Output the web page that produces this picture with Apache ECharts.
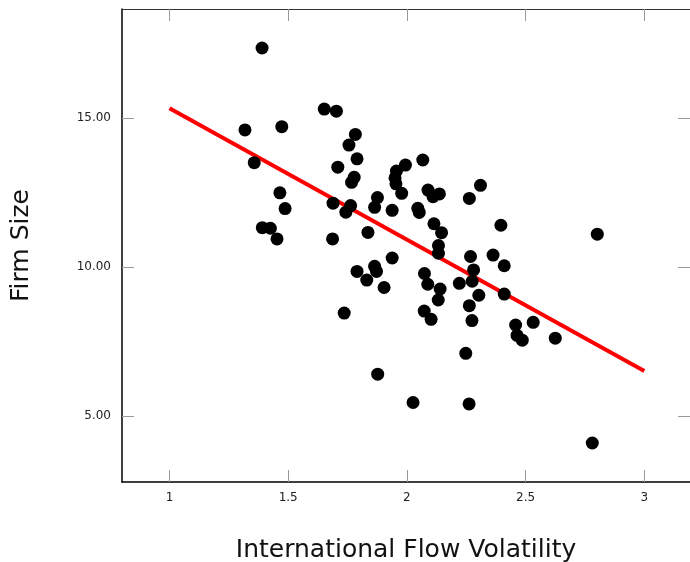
<!DOCTYPE html>
<html>
<head>
<meta charset="utf-8">
<script src="https://cdn.jsdelivr.net/npm/echarts@6/dist/echarts.min.js"></script>
<style>html,body{margin:0;padding:0;background:#fff}#c{width:690px;height:562px}</style>
</head>
<body>
<div id="c"></div>
<script>
const xTicks = [1, 1.5, 2, 2.5, 3];
const yTicks = [5, 10, 15];
const volatility = [1.390,1.318,1.473,1.357,1.391,1.425,1.453,1.465,1.487,1.652,1.703,1.783,1.756,1.790,1.709,1.778,1.767,1.689,1.763,1.743,1.687,1.836,1.790,1.831,1.736,1.864,1.872,1.904,1.877,1.938,1.876,1.864,1.938,1.994,1.956,1.950,1.954,1.978,2.067,2.089,2.110,2.137,2.046,2.052,2.114,2.146,2.133,2.133,2.074,2.088,2.140,2.132,2.073,2.102,2.026,2.262,2.263,2.310,2.268,2.281,2.275,2.221,2.303,2.263,2.274,2.248,2.363,2.396,2.410,2.410,2.458,2.464,2.486,2.532,2.625,2.802,2.781];
const firmSize = [17.35,14.60,14.71,13.50,11.32,11.30,10.94,12.49,11.96,15.30,15.23,14.45,14.09,13.63,13.35,13.01,12.84,12.14,12.06,11.84,10.94,11.16,9.85,9.56,8.45,10.02,9.85,9.31,6.40,10.30,12.33,12.00,11.90,13.42,13.22,12.99,12.79,12.47,13.59,12.58,12.36,12.45,11.97,11.83,11.45,11.15,10.72,10.46,9.78,9.42,9.26,8.89,8.52,8.24,5.45,5.40,12.30,12.74,10.35,9.90,9.52,9.45,9.05,8.70,8.20,7.10,10.40,11.40,10.04,9.09,8.05,7.70,7.54,8.14,7.61,11.10,4.09];
const fitX = [1, 3];
const fitY = [15.33, 6.51];

const points = volatility.map((v, i) => [v, firmSize[i]]);
const fitLine = fitX.map((v, i) => [v, fitY[i]]);

const chart = echarts.init(document.getElementById('c'), null, {renderer: 'canvas'});
const tickStyle = {show: true, inside: true, length: 12, lineStyle: {color: '#9a9a9a', width: 1}};
const X_MIN = 0.8, X_MAX = 3.1925, Y_MIN = 2.78, Y_MAX = 18.66;
chart.setOption({
  animation: false,
  grid: {left: 122, top: 9, right: 0, bottom: 80, containLabel: false, outerBoundsMode: 'none'},
  xAxis: [{
    type: 'value', min: X_MIN, max: X_MAX,
    name: 'International Flow Volatility', nameLocation: 'middle', nameGap: 56,
    nameTextStyle: {fontFamily: 'DejaVu Sans', fontSize: 25, color: '#111'},
    axisLine: {show: true, onZero: false, lineStyle: {color: '#000', width: 1.5}},
    axisTick: Object.assign({customValues: xTicks}, tickStyle),
    axisLabel: {customValues: xTicks, margin: 10, fontFamily: 'DejaVu Sans', fontSize: 12, color: '#222', formatter: v => String(v)},
    splitLine: {show: false}
  }, {
    type: 'value', min: X_MIN, max: X_MAX, position: 'top',
    axisLine: {show: true, onZero: false, lineStyle: {color: '#333', width: 1}},
    axisTick: Object.assign({customValues: xTicks}, tickStyle),
    axisLabel: {show: false}, splitLine: {show: false}
  }],
  yAxis: [{
    type: 'value', min: Y_MIN, max: Y_MAX,
    name: 'Firm Size', nameLocation: 'middle', nameGap: 88,
    nameTextStyle: {fontFamily: 'DejaVu Sans', fontSize: 25, color: '#111'},
    axisLine: {show: true, onZero: false, lineStyle: {color: '#000', width: 1.5}},
    axisTick: Object.assign({customValues: yTicks}, tickStyle),
    axisLabel: {customValues: yTicks, margin: 11, fontFamily: 'DejaVu Sans', fontSize: 12, color: '#222', formatter: v => v.toFixed(2)},
    splitLine: {show: false}
  }, {
    type: 'value', min: Y_MIN, max: Y_MAX, position: 'right',
    axisLine: {show: false},
    axisTick: Object.assign({customValues: yTicks}, tickStyle),
    axisLabel: {show: false}, splitLine: {show: false}
  }],
  series: [{
    type: 'line', data: fitLine, symbol: 'none', z: 1,
    lineStyle: {color: '#ff0000', width: 4}
  }, {
    type: 'scatter', data: points, symbol: 'circle', symbolSize: 13, z: 2,
    itemStyle: {color: '#000', opacity: 1}
  }]
});
</script>
</body>
</html>
